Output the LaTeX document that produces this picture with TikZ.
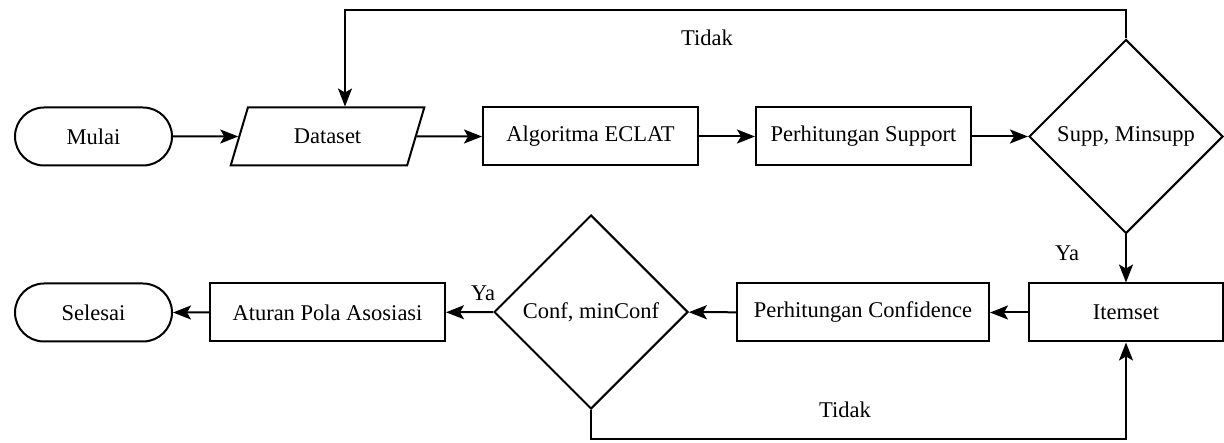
\documentclass[tikz,border=0pt]{standalone}
\usepackage{fontspec}
\setmainfont{LiberationSerif}[Extension=.ttf,UprightFont=*-Regular,BoldFont=*-Bold]
\usetikzlibrary{shapes.geometric,shapes.misc,arrows.meta}
\begin{document}
\begin{tikzpicture}[x=1pt,y=-1pt,
  every node/.style={font=\rmfamily\fontsize{22.5}{27}\selectfont},
  term/.style={draw,line width=2pt,rounded rectangle,minimum width=157pt,minimum height=58pt,inner sep=0pt},
  proc/.style={draw,line width=2pt,rectangle,minimum height=58pt,inner sep=0pt},
  io/.style={draw,line width=2pt,trapezium,trapezium left angle=64,trapezium right angle=116,minimum height=58pt,trapezium stretches=true,minimum width=195pt,inner sep=0pt},
  dec/.style={draw,line width=2pt,diamond,minimum width=194pt,minimum height=194pt,inner sep=0pt,aspect=1},
  arr/.style={line width=2pt,-{Stealth[length=18pt,width=14pt,inset=4pt]}},
  lbl/.style={font=\rmfamily\fontsize{22.5}{27}\selectfont}]
\useasboundingbox (0,0) rectangle (1224,443);
\node[term] (mulai) at (93.5,136.5) {Mulai};
\node[io] (dataset) at (327.5,136.5) {Dataset};
\node[proc,minimum width=215pt] (eclat) at (590.5,136.5) {Algoritma ECLAT};
\node[proc,minimum width=215pt] (supp) at (863.5,136.5) {Perhitungan Support};
\node[dec] (dsupp) at (1126,136.5) {Supp, Minsupp};
\node[proc,minimum width=194pt] (item) at (1126,312.5) {Itemset};
\node[proc,minimum width=252pt] (conf) at (863,312.5) {Perhitungan Confidence};
\node[dec] (dconf) at (591,312) {Conf, minConf};
\node[proc,minimum width=235pt] (aturan) at (327.5,312.5) {Aturan Pola Asosiasi};
\node[term] (selesai) at (93.5,312.5) {Selesai};
\coordinate (t1) at (1126,10);
\coordinate (t2) at (345,10);
\coordinate (b1) at (591,439);
\coordinate (b2) at (1126,439);
\draw[arr] (mulai) -- (dataset);
\draw[arr] (dataset) -- (eclat);
\draw[arr] (eclat) -- (supp);
\draw[arr] (supp) -- (dsupp);
\draw[arr] (dsupp.north) -- (t1) -- (t2) -- (t2|-dataset.north);
\draw[arr] (dsupp) -- (item);
\draw[arr] (item) -- (conf);
\draw[arr] (conf) -- (dconf);
\draw[arr] (dconf) -- (aturan);
\draw[arr] (aturan) -- (selesai);
\draw[arr] (dconf.south) -- (b1) -- (b2) -- (item.south);
\node[lbl] (tidak1) at (707,38) {Tidak};
\node[lbl] (ya1) at (1067,253) {Ya};
\node[lbl] (ya2) at (483,293) {Ya};
\node[lbl] (tidak2) at (845,410) {Tidak};
\end{tikzpicture}
\end{document}
